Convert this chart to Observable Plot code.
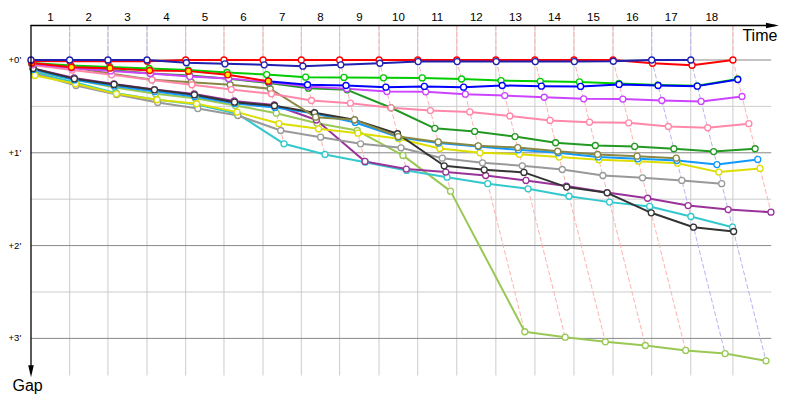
<!DOCTYPE html>
<html>
<head>
<meta charset="utf-8">
<script src="https://cdn.jsdelivr.net/npm/d3@7"></script>
<script src="https://cdn.jsdelivr.net/npm/@observablehq/plot@0.6"></script>
<style>
  html, body { margin: 0; padding: 0; background: #fff; }
</style>
</head>
<body>
<div id="chart"></div>
<script>
// ---------- data ----------
const lapLabels = ["1","2","3","4","5","6","7","8","9","10","11","12","13","14","15","16","17","18"];
// leader's cumulative time (s) at the end of laps 0..18
const leaderTimes = [0, 100, 199, 300, 400, 499, 600, 699, 798, 900, 1000, 1101, 1202, 1303, 1404, 1505, 1605, 1706, 1815];
// who led each lap 1..18
const lapLeader = ["navy","navy","navy","red","red","red","red","red","red","red","red","red","red","red","red","navy","navy","red"];
const gapTicks = [0, 60, 120, 180];
const gapTickLabels = ["+0'", "+1'", "+2'", "+3'"];
const halfTicks = [30, 90, 150];

// gaps to leader (s), per lap starting at lap 0 (royalBlue from lap 6)
const navy       = [0,0,0,0,1.8,2.5,3.1,4.0,3.1,2.1,1.0,1.0,1.0,1.0,1.0,0.8,0,0];
const red        = [0.6,0.8,0.8,0.8,0,0,0,0,0,0,0,0,0,0,0,0,2.1,3.4,0];
const redYellow  = [1.9,4.7,5.3,6.8,7.2,9.6,13.7];
const brightGreen= [1.9,3.6,4.5,5.5,6.5,8.1,9.4,11.1,11.3,11.5,11.6,12.3,13.3,13.8,14.2,15.2,16.2,16.7,12.3];
const royalBlue  = [13.7,16.0,16.5,17.6,17.1,17.6,16.5,16.9,17.1,15.8,16.5,16.9,12.6];
const violet     = [2.6,5.2,7.1,8.7,10.7,12.0,14.2,17.1,18.6,20.4,20.6,22.1,23.0,24.1,25.1,25.3,26.2,26.8,23.6];
const pink       = [3.2,6.5,9.6,12.9,16.0,19.1,21.9,26.2,27.9,30.9,32.7,33.6,36.2,39.1,40.2,40.6,43.0,43.8,41.2];
const darkGreen  = [2.3,4.5,6.5,8.7,10.0,12.2,14.9,18.2,19.3,30.9,44.2,46.2,49.5,53.5,55.3,55.9,57.4,59.2,57.4];
const olive      = [2.9,4.7,8.9,12.8,14.4,16.0,18.6,37.0,38.7,49.5,53.0,55.5,56.6,59.0,61.1,62.2,63.5];
const black      = [5.5,12.2,15.8,19.3,22.5,27.3,29.6,34.1,38.7,47.7,68.4,71.0,72.7,82.2,85.9,98.8,108.1,110.9];
const lightBlue  = [6.1,12.9,16.8,20.4,23.6,28.1,30.7,34.6,40.4,49.9,53.7,55.9,58.1,60.0,62.7,63.9,65.0,67.6,64.3];
const yellow     = [10.0,15.4,21.9,25.7,28.3,33.7,41.1,44.5,47.3,50.9,57.2,60.0,60.9,62.8,64.5,65.4,66.7,72.5,70.1];
const gray       = [8.7,16.5,22.3,27.5,31.4,35.9,45.6,49.9,54.2,56.8,63.5,66.5,68.4,70.8,74.7,76.2,77.9,80.0];
const cyan       = [8.1,14.5,21.5,25.7,28.8,34.8,54.2,61.1,66.1,71.4,75.8,80.0,83.3,88.1,91.9,94.7,101.2,108.1];
const purple     = [5.5,11.6,15.5,19.1,22.0,26.5,29.1,38.8,65.6,70.5,72.5,74.7,77.9,81.5,85.7,89.4,94.1,96.7,98.4];
const lightGreen = [7.4,12.6,17.8,21.9,24.7,29.4,34.4,40.9,45.6,61.7,84.8,175.7,179.2,182.2,184.6,187.8,189.8,194.5];

// ---------- styling ----------
const seriesList = [
  {gaps: lightGreen, start: 0, color: "#99c855"},
  {gaps: cyan,       start: 0, color: "#33c8cc"},
  {gaps: purple,     start: 0, color: "#993399"},
  {gaps: gray,       start: 0, color: "#999999"},
  {gaps: yellow,     start: 0, color: "#dddd00"},
  {gaps: lightBlue,  start: 0, color: "#1199ff"},
  {gaps: black,      start: 0, color: "#333333"},
  {gaps: olive,      start: 0, color: "#888844"},
  {gaps: darkGreen,  start: 0, color: "#229922"},
  {gaps: pink,       start: 0, color: "#ff88aa"},
  {gaps: violet,     start: 0, color: "#cc44ff"},
  {gaps: brightGreen,start: 0, color: "#00cc00"},
  {gaps: royalBlue,  start: 6, color: "#0000ff"},
  {gaps: redYellow,  start: 0, color: "#ff0000", fill: "#ffee00"},
  {gaps: red,        start: 0, color: "#ff0000"},
  {gaps: navy,       start: 0, color: "#2020b0"}
];
const dashColor = {navy: "#b4b4f0", red: "#ffb0b0"};

const X = leaderTimes;
const yTop = -22.3, yBottom = 204, xEnd = 1914;

const seriesRows = seriesList.map(s => s.gaps.map((g, i) => ({lap: s.start + i, x: X[s.start + i] + g, y: g})));
const allRows = seriesRows.flat();

const marks = [];
// horizontal grid
marks.push(Plot.link(halfTicks, {x1: () => 0, x2: () => xEnd, y1: d => d, y2: d => d, stroke: "#cccccc", strokeWidth: 1}));
// vertical grid at leader lap times
marks.push(Plot.link(X.slice(1), {x1: d => d, x2: d => d, y1: () => yTop, y2: () => yBottom, stroke: "#cccccc", strokeWidth: 1}));
marks.push(Plot.link(gapTicks, {x1: () => 0, x2: () => xEnd, y1: d => d, y2: d => d, stroke: "#888888", strokeWidth: 1}));

// dashed lap lines
for (let k = 1; k < X.length; k++) {
  const maxG = d3.max(allRows.filter(r => r.lap === k), r => r.y);
  const pts = [{x: X[k], y: yTop}, {x: X[k], y: 0}, {x: X[k] + maxG, y: maxG}];
  marks.push(Plot.line(pts, {x: "x", y: "y", stroke: dashColor[lapLeader[k - 1]], strokeWidth: 1, strokeDasharray: "4,3"}));
}

// series lines
seriesList.forEach((s, i) => {
  marks.push(Plot.line(seriesRows[i], {x: "x", y: "y", stroke: s.color, strokeWidth: 2}));
});
// series dots
seriesList.forEach((s, i) => {
  marks.push(Plot.dot(seriesRows[i], {x: "x", y: "y", r: 3, stroke: s.color, strokeWidth: 1.3, fill: s.fill || "white"}));
});

// axes lines with arrowheads
const arrowRight = {draw(ctx) { ctx.moveTo(0, 0); ctx.lineTo(-13, -2.8); ctx.lineTo(-13, 2.8); ctx.closePath(); }};
const arrowDown = {draw(ctx) { ctx.moveTo(0, 0); ctx.lineTo(-2.8, -12); ctx.lineTo(2.8, -12); ctx.closePath(); }};
const xTip = 1934, yTip = 205.2;
marks.push(Plot.line([{x: 0, y: yTop}, {x: xTip - 10, y: yTop}], {x: "x", y: "y", stroke: "black", strokeWidth: 1.3}));
marks.push(Plot.line([{x: 0, y: yTop}, {x: 0, y: yTip - 5}], {x: "x", y: "y", stroke: "black", strokeWidth: 1.3}));
marks.push(Plot.dot([{x: xTip, y: yTop}], {x: "x", y: "y", symbol: arrowRight, fill: "black", stroke: "none"}));
marks.push(Plot.dot([{x: 0, y: yTip}], {x: "x", y: "y", symbol: arrowDown, fill: "black", stroke: "none"}));

// lap labels (centered within each lap)
const lapLabelRows = lapLabels.map((t, i) => ({t, x: (X[i] + X[i + 1]) / 2}));
marks.push(Plot.text(lapLabelRows, {x: "x", y: () => -27.3, text: "t", fontSize: 11.5, fontFamily: "Liberation Sans, Arial, sans-serif", fill: "black"}));
// gap labels
const gapLabelRows = gapTicks.map((v, i) => ({v, t: gapTickLabels[i]}));
marks.push(Plot.text(gapLabelRows, {x: () => -58, y: "v", text: "t", textAnchor: "start", fontSize: 9.5, fontFamily: "Liberation Sans, Arial, sans-serif", fill: "black"}));
// axis titles
marks.push(Plot.text(["Time"], {x: () => 1930, y: () => -15.6, text: d => d, textAnchor: "end", fontSize: 16, fontFamily: "Liberation Sans, Arial, sans-serif", fill: "black"}));
marks.push(Plot.text(["Gap"], {x: () => -48, y: () => 210.6, text: d => d, textAnchor: "start", fontSize: 16, fontFamily: "Liberation Sans, Arial, sans-serif", fill: "black"}));

const chart = Plot.plot({
  width: 800,
  height: 400,
  style: {background: "white"},
  x: {domain: [0, xEnd], range: [30.5, 770.7], axis: null},
  y: {domain: [yTop, yBottom], range: [25, 375], axis: null},
  marks
});
document.getElementById("chart").appendChild(chart);
</script>
</body>
</html>
